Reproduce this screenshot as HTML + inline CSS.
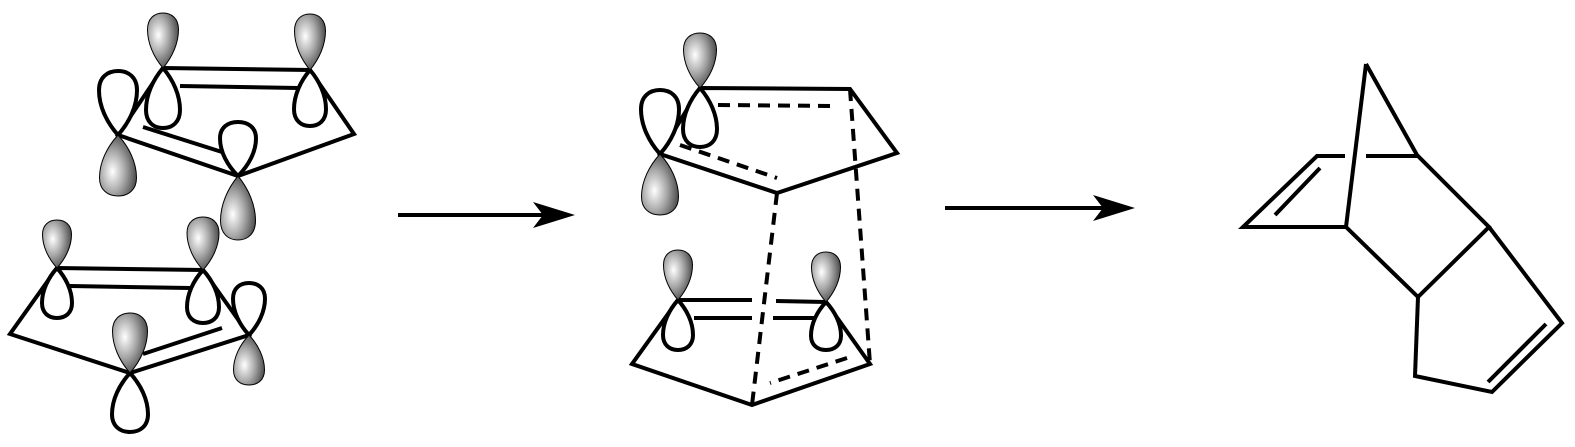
<!DOCTYPE html>
<html><head><meta charset="utf-8"><style>html,body{margin:0;padding:0;background:#fff}svg{display:block}</style></head>
<body>
<svg width="1575" height="447" viewBox="0 0 1575 447" xmlns="http://www.w3.org/2000/svg">
<defs>
<radialGradient id="g" cx="0.35" cy="0.4" r="0.75">
<stop offset="0" stop-color="#ffffff"/><stop offset="0.45" stop-color="#a8a8a8"/><stop offset="1" stop-color="#303030"/>
</radialGradient>
<path id="L" d="M0,0 C-0.3,-0.2 -0.5,-0.45 -0.5,-0.7 C-0.5,-0.9 -0.28,-1 0,-1 C0.28,-1 0.5,-0.9 0.5,-0.7 C0.5,-0.45 0.3,-0.2 0,0 Z"/>
</defs>
<g stroke="#000" stroke-width="4" fill="none" stroke-linejoin="miter">
<path d="M163,68 L310,70 L354,134 L238,176 L118,135 Z"/>
<line x1="180" y1="86" x2="298" y2="88"/>
<line x1="143" y1="127" x2="222" y2="152"/>
<path d="M57,268 L203,270 L249,335 L130,373 L10,334 Z"/>
<line x1="70" y1="286" x2="190" y2="288"/>
<line x1="143" y1="354" x2="222" y2="328"/>
<path d="M700,88 L850,89 L897,153 L777,193 L660,154 Z"/>
<g stroke-dasharray="12,8">
<line x1="718" y1="105" x2="835" y2="106"/>
<line x1="680" y1="145" x2="777" y2="178"/>
<line x1="850" y1="89" x2="870" y2="364"/>
<line x1="777" y1="193" x2="752" y2="405"/>
<line x1="847" y1="358" x2="770" y2="383"/>
</g>
<path d="M826,302 L870,364 L752,405 L632,364 L678,300"/>
<line x1="678" y1="300" x2="752" y2="300"/>
<line x1="776" y1="301" x2="826" y2="302"/>
<line x1="694" y1="318" x2="752" y2="318"/>
<line x1="773" y1="318" x2="815" y2="318"/>
<line x1="398" y1="215" x2="545" y2="215"/>
<line x1="945" y1="208" x2="1105" y2="208"/>
<path d="M1366,64 L1417,155 L1489,227 L1418,297 L1346,227 L1243,227 L1317,156 L1345,156"/>
<line x1="1366" y1="156" x2="1417" y2="156"/>
<line x1="1366" y1="64" x2="1346" y2="227"/>
<line x1="1320" y1="168" x2="1275" y2="215"/>
<path d="M1489,227 L1562,323 L1492,392 L1415,376 L1418,297"/>
<line x1="1488" y1="382" x2="1546" y2="324"/>
</g>
<path d="M575,215 L533,202 L543,215 L533,228 Z" fill="#000"/>
<path d="M1135,208 L1093,195 L1103,208 L1093,221 Z" fill="#000"/>
<g stroke="#000">
<path d="M0,0 C-0.3,-0.2 -0.5,-0.45 -0.5,-0.7 C-0.5,-0.9 -0.28,-1 0,-1 C0.28,-1 0.5,-0.9 0.5,-0.7 C0.5,-0.45 0.3,-0.2 0,0 Z" transform="translate(163,68) scale(34,-60)" fill="#fff" stroke-width="4" vector-effect="non-scaling-stroke"/>
<path d="M0,0 C-0.3,-0.2 -0.5,-0.45 -0.5,-0.7 C-0.5,-0.9 -0.28,-1 0,-1 C0.28,-1 0.5,-0.9 0.5,-0.7 C0.5,-0.45 0.3,-0.2 0,0 Z" transform="translate(163,68) scale(31,55)" fill="url(#g)" stroke-width="1" vector-effect="non-scaling-stroke"/>
<path d="M0,0 C-0.3,-0.2 -0.5,-0.45 -0.5,-0.7 C-0.5,-0.9 -0.28,-1 0,-1 C0.28,-1 0.5,-0.9 0.5,-0.7 C0.5,-0.45 0.3,-0.2 0,0 Z" transform="translate(310,70) scale(32,-56)" fill="#fff" stroke-width="4" vector-effect="non-scaling-stroke"/>
<path d="M0,0 C-0.3,-0.2 -0.5,-0.45 -0.5,-0.7 C-0.5,-0.9 -0.28,-1 0,-1 C0.28,-1 0.5,-0.9 0.5,-0.7 C0.5,-0.45 0.3,-0.2 0,0 Z" transform="translate(310,70) scale(31,56)" fill="url(#g)" stroke-width="1" vector-effect="non-scaling-stroke"/>
<path d="M0,0 C-0.3,-0.2 -0.5,-0.45 -0.5,-0.7 C-0.5,-0.9 -0.28,-1 0,-1 C0.28,-1 0.5,-0.9 0.5,-0.7 C0.5,-0.45 0.3,-0.2 0,0 Z" transform="translate(118,135) scale(38,64)" fill="#fff" stroke-width="4" vector-effect="non-scaling-stroke"/>
<path d="M0,0 C-0.3,-0.2 -0.5,-0.45 -0.5,-0.7 C-0.5,-0.9 -0.28,-1 0,-1 C0.28,-1 0.5,-0.9 0.5,-0.7 C0.5,-0.45 0.3,-0.2 0,0 Z" transform="translate(118,135) scale(37,-61)" fill="url(#g)" stroke-width="1" vector-effect="non-scaling-stroke"/>
<path d="M0,0 C-0.3,-0.2 -0.5,-0.45 -0.5,-0.7 C-0.5,-0.9 -0.28,-1 0,-1 C0.28,-1 0.5,-0.9 0.5,-0.7 C0.5,-0.45 0.3,-0.2 0,0 Z" transform="translate(238,176) scale(36,54)" fill="#fff" stroke-width="4" vector-effect="non-scaling-stroke"/>
<path d="M0,0 C-0.3,-0.2 -0.5,-0.45 -0.5,-0.7 C-0.5,-0.9 -0.28,-1 0,-1 C0.28,-1 0.5,-0.9 0.5,-0.7 C0.5,-0.45 0.3,-0.2 0,0 Z" transform="translate(238,176) scale(35,-64)" fill="url(#g)" stroke-width="1" vector-effect="non-scaling-stroke"/>
<path d="M0,0 C-0.3,-0.2 -0.5,-0.45 -0.5,-0.7 C-0.5,-0.9 -0.28,-1 0,-1 C0.28,-1 0.5,-0.9 0.5,-0.7 C0.5,-0.45 0.3,-0.2 0,0 Z" transform="translate(57,268) scale(30,-50)" fill="#fff" stroke-width="4" vector-effect="non-scaling-stroke"/>
<path d="M0,0 C-0.3,-0.2 -0.5,-0.45 -0.5,-0.7 C-0.5,-0.9 -0.28,-1 0,-1 C0.28,-1 0.5,-0.9 0.5,-0.7 C0.5,-0.45 0.3,-0.2 0,0 Z" transform="translate(57,268) scale(29,48)" fill="url(#g)" stroke-width="1" vector-effect="non-scaling-stroke"/>
<path d="M0,0 C-0.3,-0.2 -0.5,-0.45 -0.5,-0.7 C-0.5,-0.9 -0.28,-1 0,-1 C0.28,-1 0.5,-0.9 0.5,-0.7 C0.5,-0.45 0.3,-0.2 0,0 Z" transform="translate(203,270) scale(32,-53)" fill="#fff" stroke-width="4" vector-effect="non-scaling-stroke"/>
<path d="M0,0 C-0.3,-0.2 -0.5,-0.45 -0.5,-0.7 C-0.5,-0.9 -0.28,-1 0,-1 C0.28,-1 0.5,-0.9 0.5,-0.7 C0.5,-0.45 0.3,-0.2 0,0 Z" transform="translate(203,270) scale(32,53)" fill="url(#g)" stroke-width="1" vector-effect="non-scaling-stroke"/>
<path d="M0,0 C-0.3,-0.2 -0.5,-0.45 -0.5,-0.7 C-0.5,-0.9 -0.28,-1 0,-1 C0.28,-1 0.5,-0.9 0.5,-0.7 C0.5,-0.45 0.3,-0.2 0,0 Z" transform="translate(249,335) scale(32,52)" fill="#fff" stroke-width="4" vector-effect="non-scaling-stroke"/>
<path d="M0,0 C-0.3,-0.2 -0.5,-0.45 -0.5,-0.7 C-0.5,-0.9 -0.28,-1 0,-1 C0.28,-1 0.5,-0.9 0.5,-0.7 C0.5,-0.45 0.3,-0.2 0,0 Z" transform="translate(249,335) scale(31,-50)" fill="url(#g)" stroke-width="1" vector-effect="non-scaling-stroke"/>
<path d="M0,0 C-0.3,-0.2 -0.5,-0.45 -0.5,-0.7 C-0.5,-0.9 -0.28,-1 0,-1 C0.28,-1 0.5,-0.9 0.5,-0.7 C0.5,-0.45 0.3,-0.2 0,0 Z" transform="translate(130,373) scale(36,-59)" fill="#fff" stroke-width="4" vector-effect="non-scaling-stroke"/>
<path d="M0,0 C-0.3,-0.2 -0.5,-0.45 -0.5,-0.7 C-0.5,-0.9 -0.28,-1 0,-1 C0.28,-1 0.5,-0.9 0.5,-0.7 C0.5,-0.45 0.3,-0.2 0,0 Z" transform="translate(130,373) scale(35,60)" fill="url(#g)" stroke-width="1" vector-effect="non-scaling-stroke"/>
<path d="M0,0 C-0.3,-0.2 -0.5,-0.45 -0.5,-0.7 C-0.5,-0.9 -0.28,-1 0,-1 C0.28,-1 0.5,-0.9 0.5,-0.7 C0.5,-0.45 0.3,-0.2 0,0 Z" transform="translate(700,88) scale(34,-59)" fill="#fff" stroke-width="4" vector-effect="non-scaling-stroke"/>
<path d="M0,0 C-0.3,-0.2 -0.5,-0.45 -0.5,-0.7 C-0.5,-0.9 -0.28,-1 0,-1 C0.28,-1 0.5,-0.9 0.5,-0.7 C0.5,-0.45 0.3,-0.2 0,0 Z" transform="translate(700,88) scale(33,55)" fill="url(#g)" stroke-width="1" vector-effect="non-scaling-stroke"/>
<path d="M0,0 C-0.3,-0.2 -0.5,-0.45 -0.5,-0.7 C-0.5,-0.9 -0.28,-1 0,-1 C0.28,-1 0.5,-0.9 0.5,-0.7 C0.5,-0.45 0.3,-0.2 0,0 Z" transform="translate(660,154) scale(38,64)" fill="#fff" stroke-width="4" vector-effect="non-scaling-stroke"/>
<path d="M0,0 C-0.3,-0.2 -0.5,-0.45 -0.5,-0.7 C-0.5,-0.9 -0.28,-1 0,-1 C0.28,-1 0.5,-0.9 0.5,-0.7 C0.5,-0.45 0.3,-0.2 0,0 Z" transform="translate(660,154) scale(37,-61)" fill="url(#g)" stroke-width="1" vector-effect="non-scaling-stroke"/>
<path d="M0,0 C-0.3,-0.2 -0.5,-0.45 -0.5,-0.7 C-0.5,-0.9 -0.28,-1 0,-1 C0.28,-1 0.5,-0.9 0.5,-0.7 C0.5,-0.45 0.3,-0.2 0,0 Z" transform="translate(678,300) scale(30,-50)" fill="#fff" stroke-width="4" vector-effect="non-scaling-stroke"/>
<path d="M0,0 C-0.3,-0.2 -0.5,-0.45 -0.5,-0.7 C-0.5,-0.9 -0.28,-1 0,-1 C0.28,-1 0.5,-0.9 0.5,-0.7 C0.5,-0.45 0.3,-0.2 0,0 Z" transform="translate(678,300) scale(29,50)" fill="url(#g)" stroke-width="1" vector-effect="non-scaling-stroke"/>
<path d="M0,0 C-0.3,-0.2 -0.5,-0.45 -0.5,-0.7 C-0.5,-0.9 -0.28,-1 0,-1 C0.28,-1 0.5,-0.9 0.5,-0.7 C0.5,-0.45 0.3,-0.2 0,0 Z" transform="translate(826,302) scale(30,-48)" fill="#fff" stroke-width="4" vector-effect="non-scaling-stroke"/>
<path d="M0,0 C-0.3,-0.2 -0.5,-0.45 -0.5,-0.7 C-0.5,-0.9 -0.28,-1 0,-1 C0.28,-1 0.5,-0.9 0.5,-0.7 C0.5,-0.45 0.3,-0.2 0,0 Z" transform="translate(826,302) scale(29,50)" fill="url(#g)" stroke-width="1" vector-effect="non-scaling-stroke"/>
</g>
</svg>
</body></html>
